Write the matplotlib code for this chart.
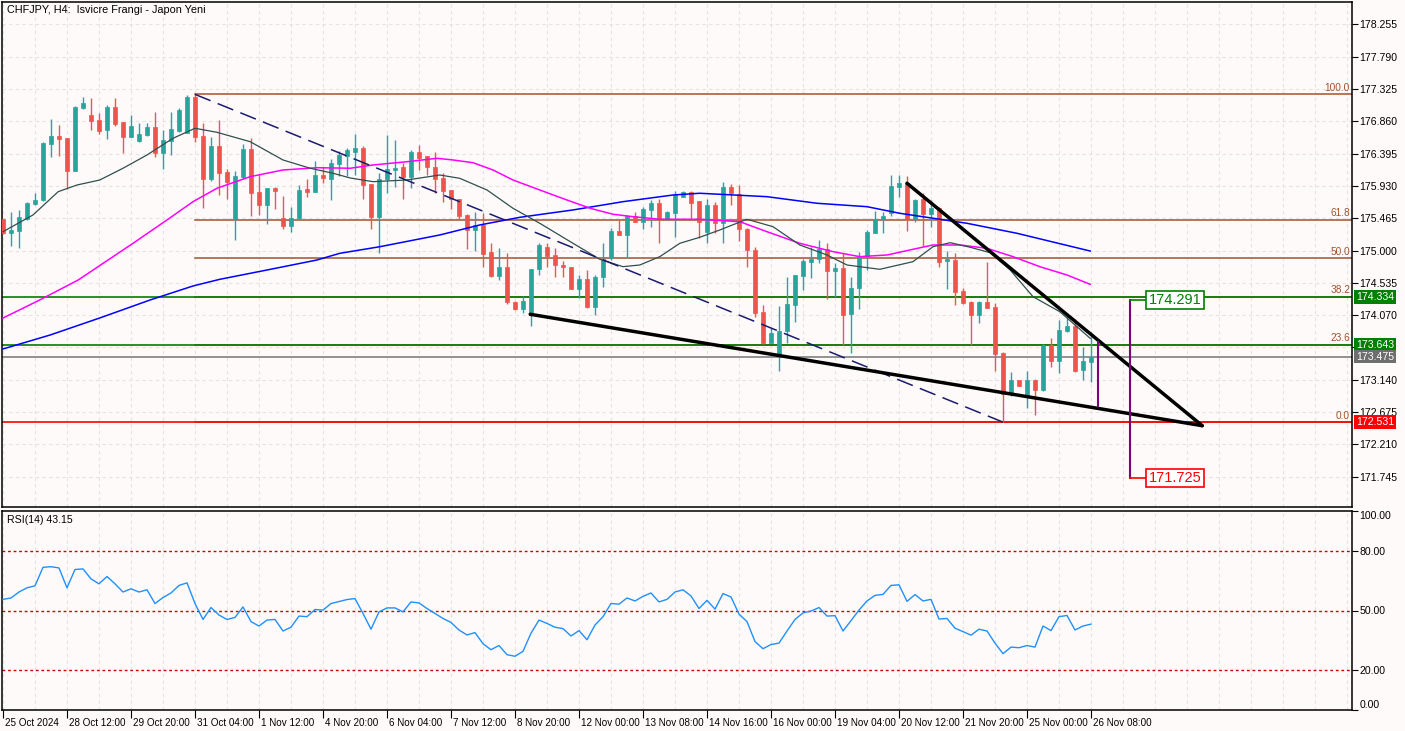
import matplotlib
matplotlib.use('Agg')
import matplotlib.pyplot as plt
from matplotlib import transforms

plt.rcParams['font.family'] = ['Liberation Sans', 'DejaVu Sans']

# ---------------- data (CHFJPY H4) ----------------
opens = [175.450, 175.253, 175.286, 175.450, 175.670, 175.727, 176.533, 176.648, 176.624, 176.149,
         177.051, 176.955, 176.878, 176.735, 177.061, 176.850, 176.638, 176.572, 176.660, 176.782,
         176.408, 176.581, 176.724, 176.696, 177.214, 176.648, 176.034, 176.504, 176.126, 175.450,
         176.063, 176.461, 175.838, 175.660, 175.904, 175.464, 175.353, 175.464, 175.890, 175.847,
         176.087, 176.034, 176.245, 176.360, 176.418, 176.476, 175.958, 175.487, 176.025, 176.159,
         176.207, 176.063, 176.418, 176.360, 176.207, 176.044, 175.871, 175.737, 175.512, 175.296,
         175.368, 174.979, 174.634, 174.768, 174.260, 174.163, 174.077, 174.730, 175.055, 174.936,
         174.797, 174.768, 174.451, 174.591, 174.192, 174.615, 174.889, 175.281, 175.220, 175.497,
         175.415, 175.584, 175.680, 175.450, 175.545, 175.775, 175.843, 175.709, 175.271, 175.655,
         175.401, 175.910, 175.814, 175.310, 175.008, 174.116, 173.674, 173.512, 173.838, 174.221,
         174.634, 174.840, 174.874, 175.018, 174.710, 174.745, 174.087, 174.461, 174.912, 175.257,
         175.450, 175.545, 175.919, 175.976, 175.450, 175.737, 175.526, 175.612, 174.850, 174.864,
         174.418, 174.264, 174.077, 174.264, 174.192, 173.530, 172.946, 173.138, 172.889, 173.138,
         172.994, 173.645, 173.415, 173.847, 173.915, 173.281, 173.401]
highs = [175.460, 175.560, 175.580, 175.700, 175.824, 176.560, 176.893, 176.806, 176.624, 177.080,
         177.214, 177.191, 176.975, 177.094, 177.191, 176.850, 176.950, 176.831, 176.831, 176.994,
         176.735, 176.994, 177.047, 177.242, 177.247, 176.831, 176.630, 176.878, 176.169, 176.149,
         176.529, 176.615, 176.101, 175.904, 175.910, 175.785, 175.631, 175.943, 176.034, 176.293,
         176.198, 176.322, 176.428, 176.471, 176.677, 176.504, 175.960, 176.112, 176.663, 176.591,
         176.264, 176.447, 176.519, 176.360, 176.418, 176.112, 175.875, 175.740, 175.520, 175.555,
         175.536, 175.104, 175.032, 174.960, 174.270, 174.346, 174.735, 175.104, 175.104, 175.032,
         174.845, 174.770, 174.648, 174.720, 174.648, 175.104, 175.320, 175.458, 175.512, 175.555,
         175.622, 175.727, 175.746, 175.570, 175.861, 175.860, 175.861, 175.710, 175.737, 175.703,
         175.991, 175.958, 175.939, 175.320, 175.047, 174.212, 173.881, 174.202, 174.615, 174.648,
         174.874, 175.047, 175.152, 175.113, 174.817, 174.960, 174.615, 174.984, 175.296, 175.573,
         175.559, 176.083, 176.083, 176.073, 175.737, 175.824, 175.727, 175.620, 174.998, 174.969,
         174.461, 174.270, 174.270, 174.840, 174.241, 173.540, 173.257, 173.140, 173.271, 173.148,
         173.656, 173.738, 174.001, 174.048, 174.010, 173.617, 173.833]
lows = [175.240, 175.060, 175.040, 175.440, 175.660, 175.717, 176.350, 176.360, 175.886, 176.140,
        177.041, 176.735, 176.673, 176.609, 176.792, 176.399, 176.630, 176.562, 176.655, 176.342,
        176.178, 176.379, 176.710, 176.687, 176.558, 175.608, 176.005, 175.799, 175.737, 175.152,
        176.025, 175.497, 175.512, 175.382, 175.602, 175.310, 175.267, 175.450, 175.775, 175.840,
        175.976, 175.727, 176.073, 176.073, 176.087, 175.742, 175.314, 174.969, 175.824, 175.919,
        175.742, 175.904, 176.159, 176.087, 175.824, 175.699, 175.598, 175.440, 175.027, 174.998,
        174.768, 174.620, 174.576, 174.231, 174.145, 174.097, 173.915, 174.653, 174.768, 174.624,
        174.624, 174.443, 174.313, 174.180, 174.077, 174.480, 174.864, 175.220, 174.912, 175.410,
        175.306, 175.343, 175.104, 175.440, 175.191, 175.770, 175.464, 175.176, 175.113, 175.248,
        175.113, 175.655, 175.142, 174.768, 174.048, 173.656, 173.670, 173.271, 173.674, 173.976,
        174.432, 174.601, 174.825, 174.299, 174.327, 173.637, 173.530, 174.155, 174.720, 175.250,
        175.248, 175.497, 175.775, 175.286, 175.415, 175.066, 175.343, 174.768, 174.451, 174.221,
        174.231, 173.637, 173.962, 174.170, 173.271, 172.531, 172.907, 173.050, 172.735, 172.630,
        172.984, 173.320, 173.243, 173.833, 173.253, 173.138, 173.113]
closes = [175.248, 175.296, 175.487, 175.689, 175.727, 176.552, 176.648, 176.609, 176.149, 177.070,
          177.119, 176.868, 176.724, 177.061, 176.821, 176.638, 176.792, 176.677, 176.782, 176.408,
          176.591, 176.749, 177.022, 177.214, 176.638, 176.034, 176.504, 176.120, 175.991, 176.073,
          176.461, 175.832, 175.660, 175.904, 175.861, 175.353, 175.464, 175.871, 175.847, 176.087,
          176.044, 176.255, 176.371, 176.447, 176.476, 175.943, 175.487, 176.025, 176.169, 176.188,
          176.063, 176.418, 176.336, 176.207, 176.034, 175.861, 175.737, 175.497, 175.296, 175.368,
          174.951, 174.634, 174.768, 174.260, 174.163, 174.279, 174.730, 175.076, 174.922, 174.788,
          174.759, 174.451, 174.591, 174.192, 174.624, 174.879, 175.281, 175.224, 175.497, 175.415,
          175.602, 175.689, 175.450, 175.555, 175.804, 175.843, 175.680, 175.411, 175.655, 175.392,
          175.910, 175.824, 175.306, 175.008, 174.106, 173.674, 173.809, 173.847, 174.231, 174.644,
          174.854, 174.883, 175.018, 174.710, 174.745, 174.073, 174.457, 174.912, 175.267, 175.458,
          175.497, 175.929, 175.976, 175.450, 175.727, 175.526, 175.612, 174.835, 174.874, 174.408,
          174.250, 174.077, 174.264, 174.174, 173.512, 172.936, 173.138, 173.051, 173.138, 172.994,
          173.645, 173.415, 173.857, 173.915, 173.271, 173.407, 173.475]

rsi = [55.6, 56.3, 59.3, 61.4, 62.4, 71.7, 72.0, 71.4, 61.4, 70.6,
       70.9, 65.9, 63.4, 67.1, 63.4, 59.3, 60.9, 59.3, 60.4, 53.5,
       56.5, 58.8, 62.6, 63.9, 53.5, 45.5, 51.5, 47.7, 45.5, 46.5,
       51.8, 44.4, 42.2, 45.2, 45.5, 39.7, 41.6, 47.2, 46.9, 50.5,
       50.2, 53.5, 54.5, 55.5, 56.0, 48.5, 40.6, 49.3, 51.3, 51.3,
       49.3, 54.3, 53.8, 51.0, 48.5, 46.0, 44.0, 40.2, 37.7, 38.9,
       33.3, 30.3, 32.4, 27.8, 27.0, 29.5, 38.6, 45.2, 43.5, 41.6,
       40.9, 37.2, 39.9, 35.3, 42.7, 46.9, 53.5, 53.2, 56.3, 54.8,
       57.1, 58.8, 54.3, 55.6, 59.3, 60.4, 57.3, 51.0, 55.1, 50.7,
       58.5, 56.8, 48.2, 44.4, 34.4, 30.8, 32.9, 33.6, 39.7, 45.5,
       48.8, 49.7, 51.5, 47.2, 47.4, 39.7, 44.9, 50.2, 54.8, 57.6,
       58.1, 62.6, 62.9, 54.6, 58.0, 54.8, 55.6, 45.7, 46.0, 41.1,
       39.4, 37.6, 40.6, 39.7, 33.6, 28.3, 31.6, 31.3, 32.4, 31.6,
       42.2, 39.9, 46.9, 47.5, 40.2, 42.2, 43.15]

# moving averages, sampled from the chart (bar position, price)
ma_fast_x = [0, 3.75, 6.9, 9.25, 12.1, 15, 18, 21.25, 24, 26.75, 30.9, 35, 38.4, 41.25, 43.4,
             46.25, 50.5, 54.6, 57.1, 60.5, 63.75, 67.1, 71.25, 74.6, 77.5, 79.6, 82.1, 84.6,
             87.1, 89.6, 93, 96.25, 99.6, 103, 105.5, 109.6, 113.75, 116.25, 118.4, 120.9,
             123.4, 125.9, 128.75, 132.1, 134.25, 135.9]
ma_fast_y = [175.271, 175.512, 175.847, 175.943, 176.015, 176.184, 176.375, 176.615, 176.759,
             176.701, 176.566, 176.303, 176.184, 176.112, 176.044, 175.991, 176.015, 176.087,
             176.039, 175.871, 175.608, 175.392, 175.104, 174.874, 174.768, 174.792, 174.912,
             175.104, 175.191, 175.296, 175.450, 175.343, 175.080, 174.936, 174.792, 174.730,
             174.840, 175.055, 175.113, 175.047, 174.969, 174.720, 174.336, 174.120, 173.904,
             173.737]
ma_mid_x = [0, 4.6, 9.4, 16.25, 20.5, 23.75, 26.75, 30.9, 35, 39.25, 43.4, 46.25, 50.5, 54.25,
            56.25, 58.75, 61.25, 63.75, 67.1, 70.5, 73.4, 76.25, 78.75, 82.1, 87.1, 92.1, 95.5,
            99.6, 103.75, 107.1, 110.5, 113.75, 116.25, 119.6, 123, 126.25, 129.6, 133, 135.9]
ma_mid_y = [174.029, 174.289, 174.576, 175.104, 175.440, 175.703, 175.896, 176.063, 176.159,
            176.192, 176.184, 176.231, 176.278, 176.327, 176.303, 176.264, 176.159, 176.015,
            175.871, 175.727, 175.608, 175.522, 175.487, 175.450, 175.450, 175.415, 175.271,
            175.104, 174.984, 174.912, 174.936, 175.018, 175.080, 175.080, 175.032, 174.912,
            174.768, 174.648, 174.514]
ma_slow_x = [0, 5.9, 12.1, 18.4, 23.75, 27.1, 33, 39.25, 42.1, 47.1, 54.6, 59.6, 64.6, 71.25,
             77.5, 83.75, 87.1, 95.5, 101.75, 108, 112.1, 120.5, 126.75, 135.9]
ma_slow_y = [173.584, 173.785, 174.030, 174.289, 174.490, 174.586, 174.720, 174.864, 174.960,
             175.055, 175.224, 175.368, 175.478, 175.584, 175.703, 175.799, 175.824, 175.775,
             175.680, 175.631, 175.536, 175.392, 175.248, 174.993]

date_pos = [0, 8, 16, 24, 32, 40, 48, 56, 64, 72, 80, 88, 96, 104, 112, 120, 128, 136]
date_labels = ['25 Oct 2024', '28 Oct 12:00', '29 Oct 20:00', '31 Oct 04:00', '1 Nov 12:00',
               '4 Nov 20:00', '6 Nov 04:00', '7 Nov 12:00', '8 Nov 20:00', '12 Nov 00:00',
               '13 Nov 08:00', '14 Nov 16:00', '16 Nov 00:00', '19 Nov 04:00', '20 Nov 12:00',
               '21 Nov 20:00', '25 Nov 00:00', '26 Nov 08:00']
price_ticks = [171.745, 172.210, 172.675, 173.140, 173.605, 174.070, 174.535, 175.000,
               175.465, 175.930, 176.395, 176.860, 177.325, 177.790, 178.255]

fib_names = ['100.0', '61.8', '50.0', '38.2', '23.6', '0.0']
fib_levels = [177.247, 175.446, 174.889, 174.334, 173.643, 172.531]
fib_start = 24

# trend lines (bar, price)
upper_line = ([113, 149.9], [175.968, 172.480])
lower_line = ([65.9, 149.9], [174.083, 172.480])
diag_line = ([24, 125], [177.247, 172.531])

target_up = 174.291
target_dn = 171.725
bid = 173.475

# ---------------- figure ----------------
BG = '#fffafa'
GREEN_C = '#26a69a'
RED_C = '#ef5350'
GRID = '#e6e2e2'

W, H = 1405, 731
fig = plt.figure(figsize=(W / 100, H / 100), dpi=100, facecolor=BG)
ax = fig.add_axes([2 / W, 1 - 507 / H, 1350 / W, 505 / H], facecolor=BG)
ax2 = fig.add_axes([2 / W, 21 / H, 1350 / W, 199 / H], facecolor=BG)

n = len(closes)
xlo, xhi = -0.125, 168.625
for a in (ax, ax2):
    a.set_xlim(xlo, xhi)
    for s in a.spines.values():
        s.set_linewidth(1.1)
    for g in range(0, 169, 4):
        a.axvline(g, color=GRID, lw=0.8, ls=(0, (3, 3)), zorder=0)

ax.set_ylim(171.31, 178.576)
for p in price_ticks:
    ax.axhline(p, color=GRID, lw=0.8, ls=(0, (3, 3)), zorder=0)

# candles
for i in range(n):
    o, h, l, c = opens[i], highs[i], lows[i], closes[i]
    col = GREEN_C if c >= o else RED_C
    ax.vlines(i, l, h, color=col, lw=1, zorder=3)
    ax.bar(i, max(abs(c - o), 0.012), bottom=min(o, c), width=0.62, color=col,
           edgecolor=col, lw=0.5, zorder=3)

# moving averages
ax.plot(ma_slow_x, ma_slow_y, color='#0000ff', lw=1.1, zorder=4)
ax.plot(ma_mid_x, ma_mid_y, color='#ff00ff', lw=1.1, zorder=4)
ax.plot(ma_fast_x, ma_fast_y, color='#2f4f4f', lw=0.9, zorder=4)

# fibonacci
fib_col = '#a0522d'
tr_r = transforms.blended_transform_factory(ax.transAxes, ax.transData)
for name, lev in zip(fib_names, fib_levels):
    ax.plot([fib_start, xhi], [lev, lev], color=fib_col, lw=1.1, zorder=2)
    ax.text(1 - 2 / 1350, lev + 0.02, name, transform=tr_r, ha='right', va='bottom',
            color=fib_col, fontsize=7.3)

# horizontal levels across the whole chart
ax.axhline(fib_levels[3], color='#008000', lw=1.2, zorder=2)
ax.axhline(fib_levels[4], color='#008000', lw=1.2, zorder=2)
ax.axhline(bid, color='#808080', lw=1.2, zorder=2)
ax.axhline(fib_levels[5], color='#ff0000', lw=1.2, zorder=2)

# trend lines
ax.plot(*diag_line, color='#1a1a6e', lw=1.1, dashes=(11, 5), zorder=5)
ax.plot(*upper_line, color='black', lw=2.5, zorder=6, solid_capstyle='round')
ax.plot(*lower_line, color='black', lw=2.5, zorder=6, solid_capstyle='round')

# projection markers
ax.plot([136.875, 136.875], [173.69, 172.76], color='#800080', lw=1.5, zorder=6)
ax.plot([140.9, 140.9], [target_up, target_dn], color='#800080', lw=1.5, zorder=6)
ax.plot([140.9, 143.0], [target_up, target_up], color='#008000', lw=1.2, zorder=6)
ax.plot([140.9, 143.0], [target_dn, target_dn], color='#ff0000', lw=1.2, zorder=6)
ax.text(146.5, target_up, f'{target_up:.3f}', color='#008000', fontsize=10.5, ha='center',
        va='center', zorder=7,
        bbox=dict(boxstyle='square,pad=0.15', facecolor='white', edgecolor='#008000', lw=1.2))
ax.text(146.5, target_dn, f'{target_dn:.3f}', color='#ff0000', fontsize=10.5, ha='center',
        va='center', zorder=7,
        bbox=dict(boxstyle='square,pad=0.15', facecolor='white', edgecolor='#ff0000', lw=1.2))

# right price axis
ax.set_xticks([])
ax.yaxis.tick_right()
ax.set_yticks(price_ticks)
ax.set_yticklabels(['' if abs(p - 173.605) < 1e-6 else f'{p:.3f}' for p in price_ticks])
ax.tick_params(axis='y', length=4, width=0.8, pad=1.5, labelsize=7.6)

for val, fc in [(fib_levels[3], '#008000'), (fib_levels[4], '#008000'),
                (bid, '#6e6e6e'), (fib_levels[5], '#ff0000')]:
    ax.text(1 + 4 / 1350, val, f'{val:.3f}', transform=tr_r, ha='left', va='center',
            color='white', fontsize=7.6, zorder=8, clip_on=False,
            bbox=dict(boxstyle='square,pad=0.18', facecolor=fc, edgecolor='none'))

fig.text(7 / W, 1 - 10 / H, 'CHFJPY, H4:  Isvicre Frangi - Japon Yeni', fontsize=7.8,
         va='center', ha='left')

# ---------------- RSI ----------------
ax2.set_ylim(0, 100)
for lev in (80, 50, 20):
    ax2.axhline(lev, color='#cc0000', lw=1, ls=(0, (2, 2)), zorder=1)
ax2.plot(range(n), rsi, color='#1e90ff', lw=1, zorder=3)
ax2.text(5 / 1350, 1 - 9 / 199, f'RSI(14) {rsi[-1]:.2f}', transform=ax2.transAxes,
         fontsize=7.6, va='center', ha='left')

ax2.yaxis.tick_right()
ax2.set_yticks([0, 20, 50, 80, 100])
ax2.set_yticklabels(['0.00', '20.00', '50.00', '80.00', '100.00'])
ax2.tick_params(axis='y', length=4, width=0.8, pad=1.5, labelsize=7.6)
ylabels = ax2.get_yticklabels()
ylabels[0].set_va('bottom')
ylabels[-1].set_va('top')

ax2.set_xticks(date_pos)
ax2.set_xticklabels(date_labels)
ax2.tick_params(axis='x', length=6, width=0.8, pad=0, labelsize=7.1)
offset = transforms.ScaledTranslation(2 / 100, 0, fig.dpi_scale_trans)
for lbl in ax2.get_xticklabels():
    lbl.set_horizontalalignment('left')
    lbl.set_transform(lbl.get_transform() + offset)

fig.savefig('out.png', dpi=100, facecolor=BG)
